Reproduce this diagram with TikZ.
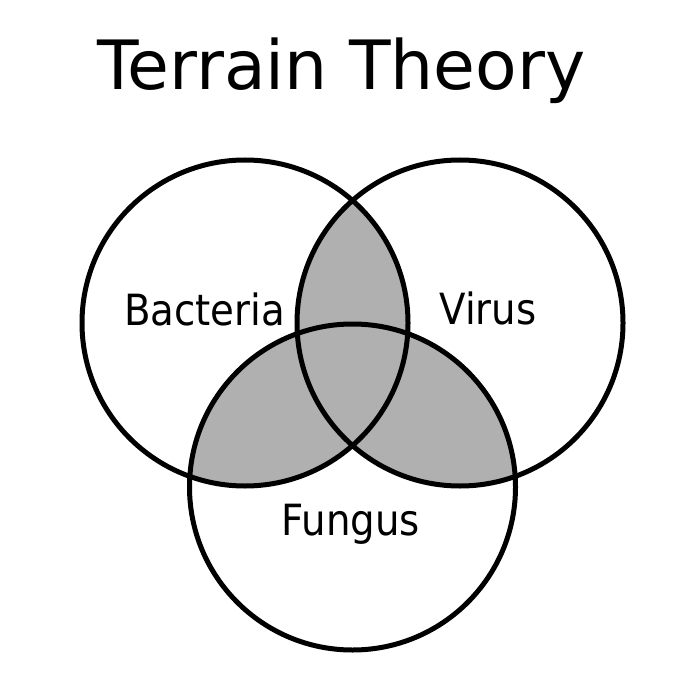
\documentclass[tikz,border=0pt]{standalone}
\usepackage{fontspec}
\setmainfont{DejaVu Sans}
\newfontfamily\labelfont{DejaVu Sans Condensed}
\definecolor{venngray}{RGB}{176,176,176}
\begin{document}
\begin{tikzpicture}[x=1pt,y=-1pt,
  ring/.style={draw=black,line width=5pt},
  lbl/.style={font=\labelfont\fontsize{43}{50}\selectfont, anchor=base, inner sep=0pt},
  ttl/.style={font=\fontsize{68}{80}\selectfont, anchor=base, inner sep=0pt}]
\useasboundingbox (0,0) rectangle (700,700);
\fill[white] (0,0) rectangle (700,700);
\coordinate (A) at (245,323);
\coordinate (B) at (460,323);
\coordinate (C) at (352.5,487);
\begin{scope}
  \clip (A) circle[radius=163];
  \fill[venngray] (B) circle[radius=163];
  \fill[venngray] (C) circle[radius=163];
\end{scope}
\begin{scope}
  \clip (B) circle[radius=163];
  \fill[venngray] (C) circle[radius=163];
\end{scope}
\draw[ring] (A) circle[radius=163];
\draw[ring] (B) circle[radius=163];
\draw[ring] (C) circle[radius=163];
\node[ttl] (title) at (341.5,90) {Terrain Theory};
\node[lbl] (bac) at (204.5,325) {Bacteria};
\node[lbl] (vir) at (488,324) {Virus};
\node[lbl] (fun) at (351,535) {Fungus};
\end{tikzpicture}
\end{document}
